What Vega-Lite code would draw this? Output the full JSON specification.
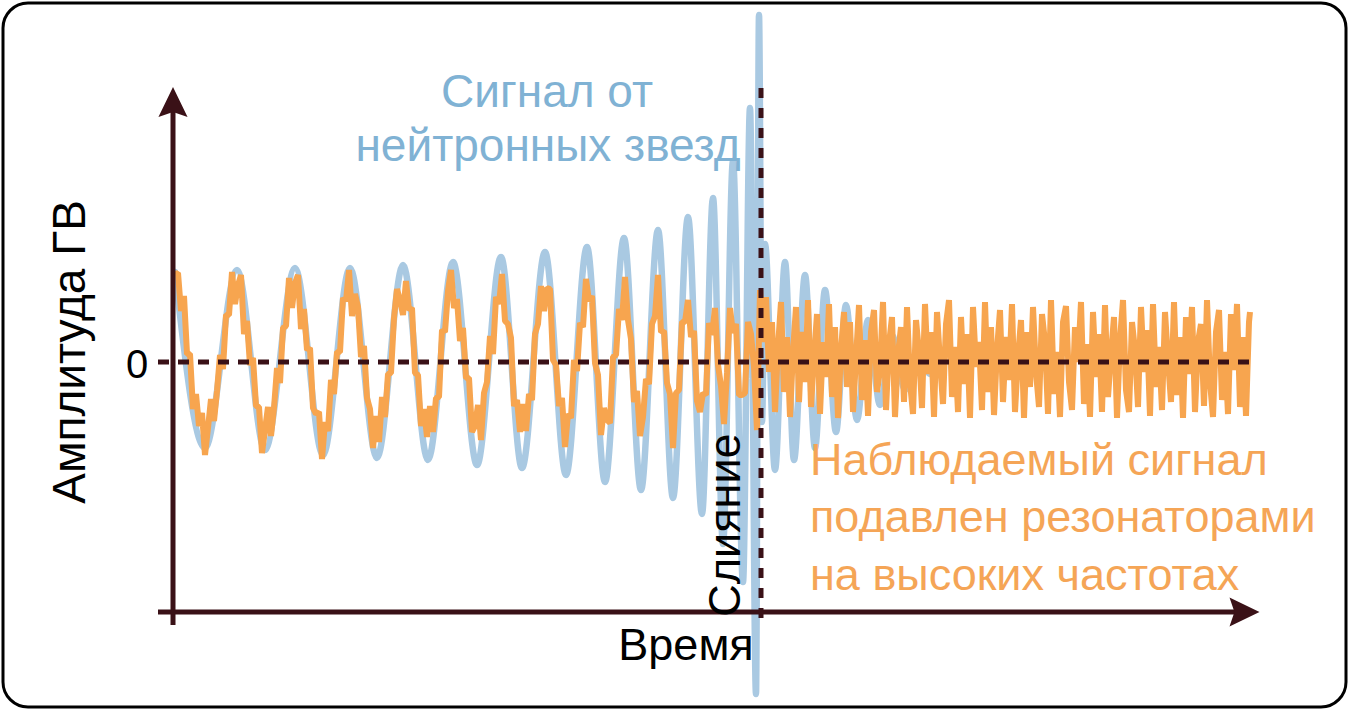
{
"$schema": "https://vega.github.io/schema/vega-lite/v6.json",
"width": 1343, "height": 704,
"autosize": {"type": "none"},
"padding": {"left": 3, "top": 3, "right": 4, "bottom": 3},
"background": "white",
"config": {"view": {"stroke": "#000000", "strokeWidth": 3, "cornerRadius": 25}},
"data": {"values": [{}]},
"datasets": {
"blue": [
{"t":0,"a":90},{"t":30,"a":-86},{"t":62,"a":92},{"t":90,"a":-88},{"t":120,"a":94},{"t":148,"a":-93},{"t":175,"a":94},{"t":202,"a":-96},{"t":228,"a":97},{"t":253,"a":-98},{"t":278,"a":100},{"t":302,"a":-103},{"t":326,"a":105},{"t":347,"a":-106},{"t":370,"a":110},{"t":391,"a":-113},{"t":412,"a":115},{"t":430,"a":-120},{"t":449,"a":124},{"t":466,"a":-128},{"t":483,"a":132},{"t":498,"a":-136},{"t":513,"a":145},{"t":527,"a":-152},{"t":538,"a":164},{"t":548,"a":-182},{"t":558,"a":201},{"t":568,"a":-220},{"t":575,"a":254},{"t":581,"a":-332},{"t":584,"a":347},{"t":587,"a":-60},{"t":590,"a":118},{"t":600,"a":-108},{"t":610,"a":100},{"t":619,"a":-98},{"t":630,"a":87},{"t":640,"a":-86},{"t":650,"a":72},{"t":661,"a":-70},{"t":671,"a":57},{"t":682,"a":-58},{"t":693,"a":42},{"t":705,"a":-43},{"t":717,"a":27},{"t":730,"a":-28},{"t":743,"a":12},{"t":755,"a":-12},{"t":770,"a":0}
],
"orange": [
{"t":0,"a":88},{"t":3,"a":89},{"t":6,"a":51},{"t":9,"a":66},{"t":12,"a":8},{"t":15,"a":8},{"t":18,"a":-47},{"t":21,"a":-32},{"t":24,"a":-64},{"t":27,"a":-51},{"t":30,"a":-93},{"t":33,"a":-66},{"t":36,"a":-37},{"t":39,"a":-59},{"t":42,"a":-29},{"t":45,"a":7},{"t":48,"a":-7},{"t":51,"a":47},{"t":54,"a":47},{"t":57,"a":90},{"t":60,"a":58},{"t":63,"a":77},{"t":66,"a":87},{"t":69,"a":28},{"t":72,"a":41},{"t":75,"a":-3},{"t":78,"a":4},{"t":81,"a":-44},{"t":84,"a":-45},{"t":87,"a":-91},{"t":90,"a":-68},{"t":93,"a":-45},{"t":96,"a":-74},{"t":99,"a":-46},{"t":102,"a":-6},{"t":105,"a":-21},{"t":108,"a":34},{"t":111,"a":36},{"t":114,"a":84},{"t":117,"a":54},{"t":120,"a":79},{"t":123,"a":87},{"t":126,"a":33},{"t":129,"a":53},{"t":132,"a":12},{"t":135,"a":14},{"t":138,"a":-46},{"t":141,"a":-52},{"t":144,"a":-50},{"t":147,"a":-97},{"t":150,"a":-60},{"t":153,"a":-69},{"t":156,"a":-18},{"t":159,"a":-32},{"t":162,"a":10},{"t":165,"a":10},{"t":168,"a":64},{"t":171,"a":61},{"t":174,"a":92},{"t":177,"a":46},{"t":180,"a":68},{"t":183,"a":55},{"t":186,"a":5},{"t":189,"a":16},{"t":192,"a":-36},{"t":195,"a":-47},{"t":198,"a":-86},{"t":201,"a":-54},{"t":204,"a":-80},{"t":207,"a":-35},{"t":210,"a":-55},{"t":213,"a":-12},{"t":216,"a":-11},{"t":219,"a":44},{"t":222,"a":73},{"t":225,"a":62},{"t":228,"a":47},{"t":231,"a":81},{"t":234,"a":52},{"t":237,"a":54},{"t":240,"a":-11},{"t":243,"a":-13},{"t":246,"a":-64},{"t":249,"a":-47},{"t":252,"a":-75},{"t":255,"a":-44},{"t":258,"a":-70},{"t":261,"a":-36},{"t":264,"a":-35},{"t":267,"a":32},{"t":270,"a":30},{"t":273,"a":71},{"t":276,"a":92},{"t":279,"a":54},{"t":282,"a":63},{"t":285,"a":21},{"t":288,"a":34},{"t":291,"a":-16},{"t":294,"a":-16},{"t":297,"a":-70},{"t":300,"a":-64},{"t":303,"a":-43},{"t":306,"a":-78},{"t":309,"a":-31},{"t":312,"a":-20},{"t":315,"a":26},{"t":318,"a":8},{"t":321,"a":65},{"t":324,"a":58},{"t":327,"a":88},{"t":330,"a":41},{"t":333,"a":38},{"t":336,"a":24},{"t":339,"a":-44},{"t":342,"a":-38},{"t":345,"a":-70},{"t":348,"a":-42},{"t":351,"a":-69},{"t":354,"a":-32},{"t":357,"a":-38},{"t":360,"a":28},{"t":363,"a":38},{"t":366,"a":76},{"t":369,"a":51},{"t":372,"a":74},{"t":375,"a":73},{"t":378,"a":2},{"t":381,"a":-3},{"t":384,"a":-44},{"t":387,"a":-36},{"t":390,"a":-85},{"t":393,"a":-52},{"t":396,"a":-56},{"t":399,"a":2},{"t":402,"a":-9},{"t":405,"a":39},{"t":408,"a":35},{"t":411,"a":83},{"t":414,"a":61},{"t":417,"a":66},{"t":420,"a":-1},{"t":423,"a":-13},{"t":426,"a":-73},{"t":429,"a":-46},{"t":432,"a":-58},{"t":435,"a":-61},{"t":438,"a":5},{"t":441,"a":7},{"t":444,"a":53},{"t":447,"a":42},{"t":450,"a":85},{"t":453,"a":42},{"t":456,"a":23},{"t":459,"a":-40},{"t":462,"a":-29},{"t":465,"a":-74},{"t":468,"a":-55},{"t":471,"a":-17},{"t":474,"a":-22},{"t":477,"a":38},{"t":480,"a":46},{"t":483,"a":87},{"t":486,"a":30},{"t":489,"a":31},{"t":492,"a":-21},{"t":495,"a":-32},{"t":498,"a":-86},{"t":501,"a":-31},{"t":504,"a":-28},{"t":507,"a":40},{"t":510,"a":40},{"t":513,"a":62},{"t":516,"a":25},{"t":519,"a":31},{"t":522,"a":-39},{"t":525,"a":-50},{"t":528,"a":-31},{"t":531,"a":-33},{"t":534,"a":39},{"t":537,"a":27},{"t":540,"a":54},{"t":543,"a":-3},{"t":546,"a":-24},{"t":549,"a":-62},{"t":552,"a":-11},{"t":555,"a":54},{"t":558,"a":29},{"t":561,"a":38},{"t":564,"a":-33},{"t":567,"a":-33},{"t":570,"a":-31},{"t":573,"a":40},{"t":576,"a":28},{"t":579,"a":-5},{"t":582,"a":-68},
{"t":585,"a":72},{"t":588,"a":20},{"t":591,"a":65},{"t":594,"a":-10},{"t":597,"a":40},{"t":600,"a":-50},{"t":603,"a":15},{"t":606,"a":60},{"t":609,"a":-30},{"t":612,"a":25},{"t":615,"a":-55},{"t":618,"a":10},{"t":621,"a":55},{"t":624,"a":-40},{"t":627,"a":30},{"t":630,"a":-20},{"t":633,"a":62},{"t":636,"a":-45},{"t":639,"a":5},{"t":642,"a":48},{"t":645,"a":-52},{"t":648,"a":20},{"t":651,"a":-15},{"t":654,"a":58},{"t":657,"a":-35},{"t":660,"a":35},{"t":663,"a":-56},{"t":666,"a":12},{"t":669,"a":50},{"t":672,"a":-25},{"t":675,"a":40},{"t":678,"a":-50},{"t":681,"a":3},{"t":684,"a":57},{"t":687,"a":-38},{"t":690,"a":22},{"t":693,"a":-54},{"t":696,"a":30},{"t":699,"a":52},{"t":702,"a":-30},{"t":705,"a":-8},{"t":708,"a":60},{"t":711,"a":-48},{"t":714,"a":18},{"t":717,"a":45},{"t":720,"a":-55},{"t":723,"a":8},{"t":726,"a":35},{"t":729,"a":-40},{"t":732,"a":55},{"t":735,"a":-20},{"t":738,"a":-52},{"t":741,"a":42},{"t":744,"a":10},{"t":747,"a":-46},{"t":750,"a":58},{"t":753,"a":-12},{"t":756,"a":30},{"t":759,"a":-55},{"t":762,"a":50},{"t":765,"a":0},{"t":768,"a":-42},{"t":771,"a":38},{"t":774,"a":62},{"t":777,"a":-35},{"t":780,"a":15},{"t":783,"a":-50},{"t":786,"a":45},{"t":789,"a":-22},{"t":792,"a":28},{"t":795,"a":-56},{"t":798,"a":55},{"t":801,"a":-5},{"t":804,"a":20},{"t":807,"a":-48},{"t":810,"a":60},{"t":813,"a":-30},{"t":816,"a":35},{"t":819,"a":-53},{"t":822,"a":12},{"t":825,"a":52},{"t":828,"a":-40},{"t":831,"a":25},{"t":834,"a":-18},{"t":837,"a":58},{"t":840,"a":-50},{"t":843,"a":5},{"t":846,"a":42},{"t":849,"a":-56},{"t":852,"a":30},{"t":855,"a":-25},{"t":858,"a":55},{"t":861,"a":-10},{"t":864,"a":-45},{"t":867,"a":48},{"t":870,"a":20},{"t":873,"a":-52},{"t":876,"a":62},{"t":879,"a":-32},{"t":882,"a":10},{"t":885,"a":-55},{"t":888,"a":40},{"t":891,"a":56},{"t":894,"a":-20},{"t":897,"a":-48},{"t":900,"a":35},{"t":903,"a":0},{"t":906,"a":60},{"t":909,"a":-42},{"t":912,"a":18},{"t":915,"a":-55},{"t":918,"a":50},{"t":921,"a":-15},{"t":924,"a":28},{"t":927,"a":-50},{"t":930,"a":57},{"t":933,"a":-35},{"t":936,"a":8},{"t":939,"a":45},{"t":942,"a":-56},{"t":945,"a":22},{"t":948,"a":62},{"t":951,"a":-28},{"t":954,"a":-50},{"t":957,"a":40},{"t":960,"a":12},{"t":963,"a":-45},{"t":966,"a":55},{"t":969,"a":-10},{"t":972,"a":32},{"t":975,"a":-54},{"t":978,"a":58},{"t":981,"a":-25},{"t":984,"a":15},{"t":987,"a":-48},{"t":990,"a":50},{"t":993,"a":2},{"t":996,"a":-40},{"t":999,"a":60},{"t":1002,"a":-33},{"t":1005,"a":25},{"t":1008,"a":-56},{"t":1011,"a":45},{"t":1014,"a":-12},{"t":1017,"a":55},{"t":1020,"a":-50},{"t":1023,"a":20},{"t":1026,"a":38},{"t":1029,"a":-44},{"t":1032,"a":62},{"t":1035,"a":-20},{"t":1038,"a":-55},{"t":1041,"a":30},{"t":1044,"a":52},{"t":1047,"a":-38},{"t":1050,"a":10},{"t":1053,"a":-52},{"t":1056,"a":48},{"t":1059,"a":-8},{"t":1062,"a":58},{"t":1065,"a":-45},{"t":1068,"a":25},{"t":1071,"a":-54},{"t":1074,"a":40},{"t":1075,"a":50}
]
},
"layer": [
{"data": {"name": "blue"},
 "mark": {"type": "line", "interpolate": "monotone", "color": "#a9c9e2", "strokeWidth": 6.5, "strokeCap": "round"},
 "encoding": {"x": {"field": "t", "type": "quantitative", "axis": null, "scale": {"domain": [-172, 1171], "nice": false, "zero": false}},
              "y": {"field": "a", "type": "quantitative", "axis": null, "scale": {"domain": [-345, 359], "nice": false, "zero": false}}}},
{"data": {"name": "orange"},
 "mark": {"type": "line", "interpolate": "linear", "color": "#f7a54f", "strokeWidth": 6, "strokeJoin": "bevel"},
 "encoding": {"x": {"field": "t", "type": "quantitative", "axis": null, "scale": {"domain": [-172, 1171], "nice": false, "zero": false}},
              "y": {"field": "a", "type": "quantitative", "axis": null, "scale": {"domain": [-345, 359], "nice": false, "zero": false}}}},
{"mark": {"type": "rule", "color": "#3a1117", "strokeWidth": 5, "strokeDash": [11, 9]},
 "encoding": {"x": {"datum": -17, "type": "quantitative"}, "x2": {"datum": 1075}, "y": {"datum": 0, "type": "quantitative"}}},
{"mark": {"type": "rule", "color": "#3a1117", "strokeWidth": 5, "strokeDash": [10, 10]},
 "encoding": {"x": {"datum": 586, "type": "quantitative"}, "y": {"datum": 274, "type": "quantitative"}, "y2": {"datum": -260}}},
{"mark": {"type": "rule", "color": "#3a1117", "strokeWidth": 5},
 "encoding": {"x": {"datum": -2, "type": "quantitative"}, "y": {"datum": -263, "type": "quantitative"}, "y2": {"datum": 262}}},
{"mark": {"type": "rule", "color": "#3a1117", "strokeWidth": 5},
 "encoding": {"x": {"datum": -17, "type": "quantitative"}, "x2": {"datum": 1062}, "y": {"datum": -250, "type": "quantitative"}}},
{"mark": {"type": "point", "shape": "M0,-1 L0.97,1 L0,0.67 L-0.97,1 Z", "size": 900, "filled": true, "color": "#3a1117", "opacity": 1, "strokeWidth": 0},
 "encoding": {"x": {"datum": -2, "type": "quantitative"}, "y": {"datum": 260, "type": "quantitative"}}},
{"mark": {"type": "point", "shape": "M1,0 L-1,0.97 L-0.67,0 L-1,-0.97 Z", "size": 900, "filled": true, "color": "#3a1117", "opacity": 1, "strokeWidth": 0},
 "encoding": {"x": {"datum": 1069.5, "type": "quantitative"}, "y": {"datum": -250, "type": "quantitative"}}},
{"mark": {"type": "text", "text": "Сигнал от", "font": "Liberation Sans", "fontSize": 46, "color": "#80b2d4", "align": "center", "baseline": "alphabetic"},
 "encoding": {"x": {"datum": 372, "type": "quantitative"}, "y": {"datum": 255, "type": "quantitative"}}},
{"mark": {"type": "text", "text": "нейтронных звезд", "font": "Liberation Sans", "fontSize": 46, "color": "#80b2d4", "align": "center", "baseline": "alphabetic"},
 "encoding": {"x": {"datum": 373, "type": "quantitative"}, "y": {"datum": 201, "type": "quantitative"}}},
{"mark": {"type": "text", "text": "Амплитуда ГВ", "font": "Liberation Sans", "fontSize": 46, "color": "#000000", "align": "center", "baseline": "alphabetic", "angle": 270},
 "encoding": {"x": {"datum": -90, "type": "quantitative"}, "y": {"datum": 10, "type": "quantitative"}}},
{"mark": {"type": "text", "text": "0", "font": "Liberation Sans", "fontSize": 40, "color": "#000000", "align": "center", "baseline": "alphabetic"},
 "encoding": {"x": {"datum": -38, "type": "quantitative"}, "y": {"datum": -16, "type": "quantitative"}}},
{"mark": {"type": "text", "text": "Время", "font": "Liberation Sans", "fontSize": 45, "color": "#000000", "align": "center", "baseline": "alphabetic"},
 "encoding": {"x": {"datum": 511, "type": "quantitative"}, "y": {"datum": -298, "type": "quantitative"}}},
{"mark": {"type": "text", "text": "Слияние", "font": "Liberation Sans", "fontSize": 45, "color": "#000000", "align": "center", "baseline": "alphabetic", "angle": 270},
 "encoding": {"x": {"datum": 565, "type": "quantitative"}, "y": {"datum": -163, "type": "quantitative"}}},
{"mark": {"type": "text", "text": "Наблюдаемый сигнал", "font": "Liberation Sans", "fontSize": 45, "color": "#f5a556", "align": "left", "baseline": "alphabetic"},
 "encoding": {"x": {"datum": 635, "type": "quantitative"}, "y": {"datum": -113, "type": "quantitative"}}},
{"mark": {"type": "text", "text": "подавлен резонаторами", "font": "Liberation Sans", "fontSize": 45, "color": "#f5a556", "align": "left", "baseline": "alphabetic"},
 "encoding": {"x": {"datum": 635, "type": "quantitative"}, "y": {"datum": -170, "type": "quantitative"}}},
{"mark": {"type": "text", "text": "на высоких частотах", "font": "Liberation Sans", "fontSize": 45, "color": "#f5a556", "align": "left", "baseline": "alphabetic"},
 "encoding": {"x": {"datum": 635, "type": "quantitative"}, "y": {"datum": -228, "type": "quantitative"}}}
]
}
